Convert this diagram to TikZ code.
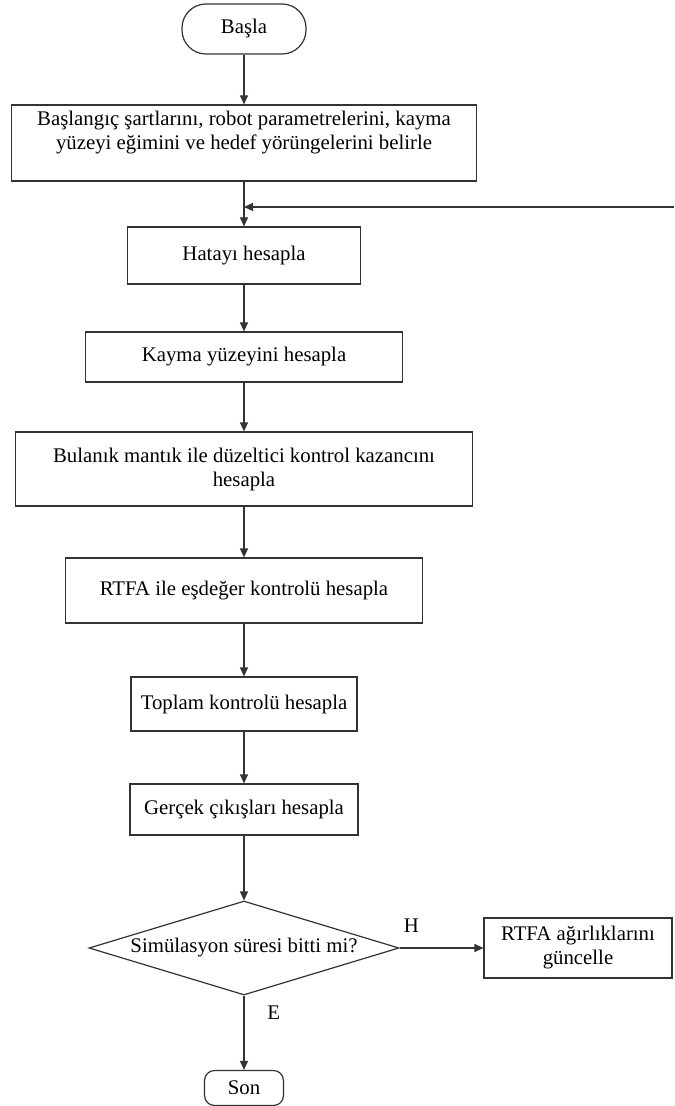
\documentclass[tikz,border=0pt]{standalone}
\usepackage{fontspec}
\setmainfont{Liberation Serif}
\usetikzlibrary{positioning, arrows.meta, shapes.geometric}

\begin{document}
\begin{tikzpicture}[
        >={Triangle[length=4.5pt,width=4pt]},
        on grid,
        font=\fontsize{10.4}{12}\selectfont,
        box/.style={draw=black!80, line width=0.6pt, inner sep=0pt, align=center},
        process/.style={box, rectangle},
        terminal/.style={box, rectangle, rounded corners=12pt},
        decision/.style={box, diamond, shape aspect=3.3},
        line/.style={draw=black!80, line width=0.6pt}
    ]
        \useasboundingbox (0,0) rectangle (337pt,-553pt);

        \node[terminal, minimum width=62pt, minimum height=25pt] (basla) at (122pt,-14.5pt) {Başla};
        \node[process, minimum width=232.5pt, text height=22.5pt, text depth=15.5pt, below=57pt of basla] (init)
            {Başlangıç şartlarını, robot parametrelerini, kayma\\yüzeyi eğimini ve hedef yörüngelerini belirle};
        \coordinate[below=32pt of init] (birlesme);
        \coordinate (sag) at (337pt,-103.5pt);
\node[process, minimum width=116.5pt, minimum height=28.5pt, below=56.25pt of init] (hata) {Hatayı hesapla};
        \node[process, minimum width=158.5pt, minimum height=25pt, below=50.75pt of hata] (kayma) {Kayma yüzeyini hesapla};
        \node[process, minimum width=228.5pt, minimum height=37pt, below=56pt of kayma] (bulanik)
            {Bulanık mantık ile düzeltici kontrol kazancını\\hesapla};
        \node[process, minimum width=178.5pt, minimum height=32.5pt, below=60.75pt of bulanik] (rtfa) {RTFA ile eşdeğer kontrolü hesapla};
        \node[process, minimum width=113pt, minimum height=27pt, below=56.75pt of rtfa] (toplam) {Toplam kontrolü hesapla};
        \node[process, minimum width=114pt, minimum height=25.5pt, below=52.75pt of toplam] (gercek) {Gerçek çıkışları hesapla};
        \node[decision, minimum width=155pt, minimum height=47pt, below=69.25pt of gercek] (karar) {Simülasyon süresi bitti mi?};
        \node[process, minimum width=94pt, minimum height=30pt, right=167pt of karar] (guncelle) {RTFA ağırlıklarını\\güncelle};
        \node[terminal, rounded corners=5pt, minimum width=39.5pt, minimum height=17.5pt, below=70pt of karar] (son) {Son};

        \draw[line, ->] (basla) -- (init);
        \draw[line, ->] (init) -- (hata);
        \draw[line, ->] (sag) -- (birlesme);
        \draw[line, ->] (hata) -- (kayma);
        \draw[line, ->] (kayma) -- (bulanik);
        \draw[line, ->] (bulanik) -- (rtfa);
        \draw[line, ->] (rtfa) -- (toplam);
        \draw[line, ->] (toplam) -- (gercek);
        \draw[line, ->] (gercek) -- (karar);
        \draw[line, ->] (karar) -- node[pos=0.14, above=4pt] {H} (guncelle);
        \draw[line, ->] (karar) -- node[pos=0.23, right=8pt] {E} (son);
\end{tikzpicture}
\end{document}
